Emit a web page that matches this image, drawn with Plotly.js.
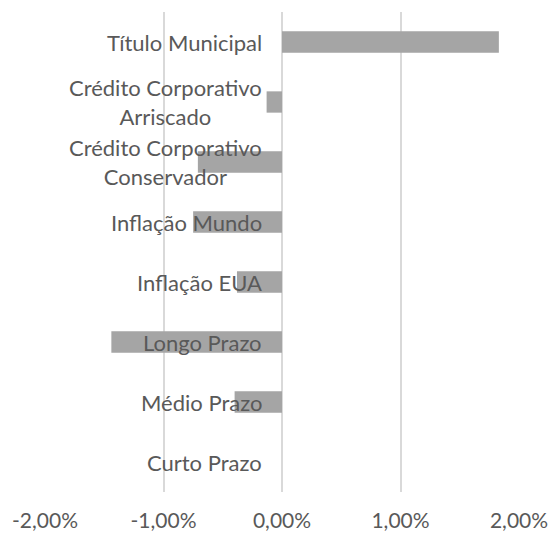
<!DOCTYPE html>
<html>
<head>
<meta charset="utf-8">
<script src="https://cdn.plot.ly/plotly-3.0.1.min.js"></script>
<style>html,body{margin:0;padding:0;background:#fff;}#chart{width:555px;height:536px;}</style>
</head>
<body>
<div id="chart"></div>
<script>
const categories = ["Curto Prazo","Médio Prazo","Longo Prazo","Inflação EUA","Inflação Mundo","Crédito Corporativo<br>Conservador","Crédito Corporativo<br>Arriscado","Título Municipal"];
const values = [0.0, -0.0040, -0.0144, -0.0038, -0.0075, -0.0071, -0.0013, 0.0183];
const tickVals = [-0.02, -0.01, 0, 0.01, 0.02];
const tickLabels = ["-2,00%", "-1,00%", "0,00%", "1,00%", "2,00%"];

const trace = {
  type: 'bar', orientation: 'h',
  y: categories, x: values,
  marker: {color: '#a5a5a5'},
  hoverinfo: 'none'
};
const annotations = categories.map(c => ({
  x: 0, y: c, xref: 'x', yref: 'y',
  text: c, showarrow: false, xanchor: 'right', yanchor: 'middle',
  xshift: -18, align: 'center',
  font: {family: 'Lato, sans-serif', size: 22, color: '#595959'}
}));
const layout = {
  width: 555, height: 536,
  margin: {l: 45, r: 36, t: 12, b: 44},
  paper_bgcolor: '#fff', plot_bgcolor: '#fff',
  separators: ',.',
  bargap: 0.645,
  showlegend: false,
  xaxis: {
    range: [-0.02, 0.02], tickvals: tickVals, ticktext: tickLabels,
    showgrid: true, gridcolor: '#d9d9d9', gridwidth: 2,
    zeroline: true, zerolinecolor: '#d9d9d9', zerolinewidth: 2,
    showline: false, ticks: '', ticklabelstandoff: 14, automargin: false,
    tickfont: {family: 'Lato, sans-serif', size: 21, color: '#595959'},
    fixedrange: true
  },
  yaxis: {
    type: 'category', categoryorder: 'array', categoryarray: categories,
    showticklabels: false, showgrid: false, zeroline: false, showline: false,
    fixedrange: true
  },
  annotations: annotations
};
Plotly.newPlot('chart', [trace], layout, {displayModeBar: false, staticPlot: true});
</script>
</body>
</html>
